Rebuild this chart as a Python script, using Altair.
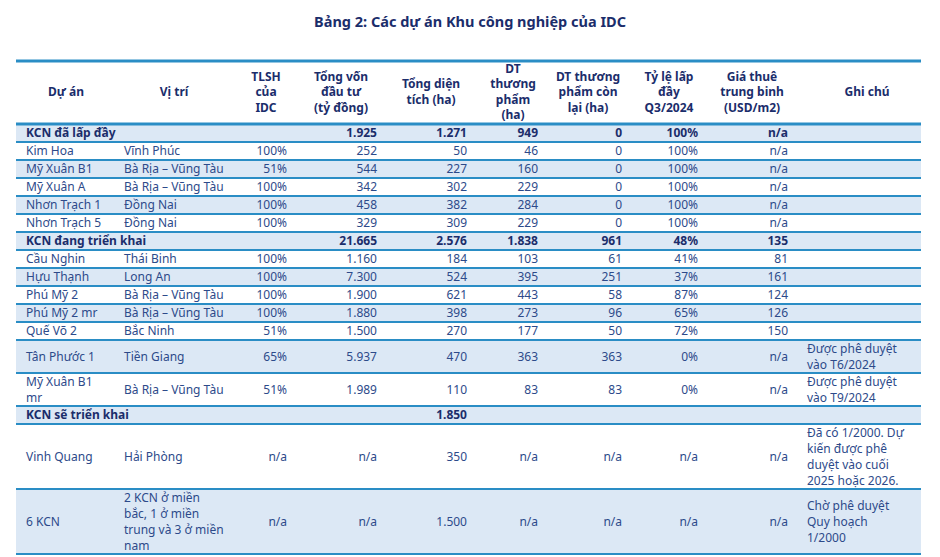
import altair as alt
import pandas as pd

# ---------------- data ----------------
TITLE = "Bảng 2: Các dự án Khu công nghiệp của IDC"

HEADERS = [
    "Dự án", "Vị trí", "TLSH\ncủa\nIDC", "Tổng vốn\nđầu tư\n(tỷ đồng)",
    "Tổng diện\ntích (ha)", "DT\nthương\nphẩm\n(ha)", "DT thương\nphẩm còn\nlại (ha)",
    "Tỷ lệ lấp\nđầy\nQ3/2024", "Giá thuê\ntrung binh\n(USD/m2)", "Ghi chú",
]

SECTION_ROWS = ["KCN đã lấp đầy", "KCN đang triển khai", "KCN sẽ triển khai"]

DU_AN = [
    "KCN đã lấp đầy", "Kim Hoa", "Mỹ Xuân B1", "Mỹ Xuân A", "Nhơn Trạch 1", "Nhơn Trạch 5",
    "KCN đang triển khai", "Cầu Nghin", "Hựu Thạnh", "Phú Mỹ 2", "Phú Mỹ 2 mr", "Quế Võ 2",
    "Tân Phước 1", "Mỹ Xuân B1\nmr", "KCN sẽ triển khai", "Vinh Quang", "6 KCN",
]
VI_TRI = [
    "", "Vĩnh Phúc", "Bà Rịa – Vũng Tàu", "Bà Rịa – Vũng Tàu", "Đồng Nai", "Đồng Nai",
    "", "Thái Binh", "Long An", "Bà Rịa – Vũng Tàu", "Bà Rịa – Vũng Tàu", "Bắc Ninh",
    "Tiền Giang", "Bà Rịa – Vũng Tàu", "", "Hải Phòng",
    "2 KCN ở miền\nbắc, 1 ở miền\ntrung và 3 ở miền\nnam",
]
TLSH = ["", "100%", "51%", "100%", "100%", "100%", "", "100%", "100%", "100%", "100%",
        "51%", "65%", "51%", "", "n/a", "n/a"]
TONG_VON = ["1.925", "252", "544", "342", "458", "329", "21.665", "1.160", "7.300", "1.900",
            "1.880", "1.500", "5.937", "1.989", "", "n/a", "n/a"]
TONG_DIEN_TICH = ["1.271", "50", "227", "302", "382", "309", "2.576", "184", "524", "621",
                  "398", "270", "470", "110", "1.850", "350", "1.500"]
DT_THUONG_PHAM = ["949", "46", "160", "229", "284", "229", "1.838", "103", "395", "443",
                  "273", "177", "363", "83", "", "n/a", "n/a"]
DT_CON_LAI = ["0", "0", "0", "0", "0", "0", "961", "61", "251", "58", "96", "50", "363",
              "83", "", "n/a", "n/a"]
TY_LE_LAP_DAY = ["100%", "100%", "100%", "100%", "100%", "100%", "48%", "41%", "37%", "87%",
                 "65%", "72%", "0%", "0%", "", "n/a", "n/a"]
GIA_THUE = ["n/a", "n/a", "n/a", "n/a", "n/a", "n/a", "135", "81", "161", "124", "126", "150",
            "n/a", "n/a", "", "n/a", "n/a"]
GHI_CHU = ["", "", "", "", "", "", "", "", "", "", "", "",
           "Được phê duyệt\nvào T6/2024", "Được phê duyệt\nvào T9/2024", "",
           "Đã có 1/2000. Dự\nkiến được phê\nduyệt vào cuối\n2025 hoặc 2026.",
           "Chờ phê duyệt\nQuy hoạch\n1/2000"]

COLUMNS = [DU_AN, VI_TRI, TLSH, TONG_VON, TONG_DIEN_TICH, DT_THUONG_PHAM, DT_CON_LAI,
           TY_LE_LAP_DAY, GIA_THUE, GHI_CHU]

# ---------------- layout / style ----------------
W, H = 924, 549
X0, X1 = 8, 913
TITLE_X, TITLE_Y = 462, 15
TOP_LINE = 53
HEADER_Y = 84
ROW_START = 116
COL_ANCHOR = [18, 116, 279, 369, 459, 530, 614, 690, 780, 799]
COL_ALIGN = ["left", "left", "right", "right", "right", "right", "right", "right", "right", "left"]
HEADER_X = [58, 166, 258, 333, 423, 505, 580, 661, 744, 859]
FONT = "Noto Sans"
NAVY = "#1b2d6b"
TEXT = "#2d4a8a"
LINE = "#2a8dc5"
FILL = "#dce8f5"
LH = 16          # line height of wrapped cell text
HLH = 15.5       # line height of header text


def nlines(s):
    return str(s).count("\n") + 1


rows, cells = [], []
top = ROW_START
for i in range(len(DU_AN)):
    n = max(nlines(col[i]) for col in COLUMNS)
    h = 18 if n == 1 else 16 * n + 1
    bold = DU_AN[i] in SECTION_ROWS
    rows.append(dict(row=i, top=top, bottom=top + h, shade=(i % 2 == 0)))
    for c, col in enumerate(COLUMNS):
        if col[i] != "":
            # first line position so that the whole block is centred in the row
            y_first = top + h / 2 - (nlines(col[i]) - 1) * LH / 2
            cells.append(dict(text=col[i], x=COL_ANCHOR[c], y=y_first,
                              align=COL_ALIGN[c], bold=bold))
    top += h

rows_df = pd.DataFrame(rows)
cells_df = pd.DataFrame(cells)
header_df = pd.DataFrame(dict(
    text=HEADERS, x=HEADER_X,
    y=[HEADER_Y - (nlines(t) - 1) * HLH / 2 for t in HEADERS],
))
title_df = pd.DataFrame(dict(text=[TITLE], x=[TITLE_X], y=[TITLE_Y]))
lines_df = pd.DataFrame(
    [dict(y=TOP_LINE, w=3), dict(y=ROW_START, w=3)]
    + [dict(y=b, w=2) for b in rows_df["bottom"]]
)

xs = alt.Scale(domain=[0, W], nice=False, zero=False)
ys = alt.Scale(domain=[0, H], nice=False, zero=False, reverse=True)

fills = alt.Chart(rows_df[rows_df["shade"]]).mark_rect(color=FILL).encode(
    x=alt.value(X0), x2=alt.value(X1),
    y=alt.Y("top:Q", scale=ys, axis=None), y2="bottom:Q",
)

rules = alt.Chart(lines_df).mark_rule(color=LINE).encode(
    x=alt.value(X0), x2=alt.value(X1),
    y=alt.Y("y:Q", scale=ys, axis=None),
    strokeWidth=alt.StrokeWidth("w:Q", scale=None),
)


def text_layer(df, align, bold, color, size=12, lh=LH):
    return alt.Chart(df).mark_text(
        align=align, baseline="middle", font=FONT, fontSize=size,
        fontWeight="bold" if bold else "normal", color=color,
        lineBreak="\n", lineHeight=lh,
    ).encode(
        x=alt.X("x:Q", scale=xs, axis=None),
        y=alt.Y("y:Q", scale=ys, axis=None),
        text="text:N",
    )


layers = [fills, rules]
for align in ["left", "right"]:
    for bold in [False, True]:
        sub = cells_df[(cells_df["align"] == align) & (cells_df["bold"] == bold)]
        if len(sub):
            layers.append(text_layer(sub, align, bold, NAVY if bold else TEXT))
layers.append(text_layer(header_df, "center", True, NAVY, size=12, lh=HLH))
layers.append(text_layer(title_df, "center", True, NAVY, size=14.5))

chart = alt.layer(*layers).properties(
    width=W, height=H, padding=0, autosize=alt.AutoSizeParams(type="none"),
    background="white",
).configure_view(stroke=None)

chart.save("out.html", embed_options={"renderer": "svg", "actions": False})
